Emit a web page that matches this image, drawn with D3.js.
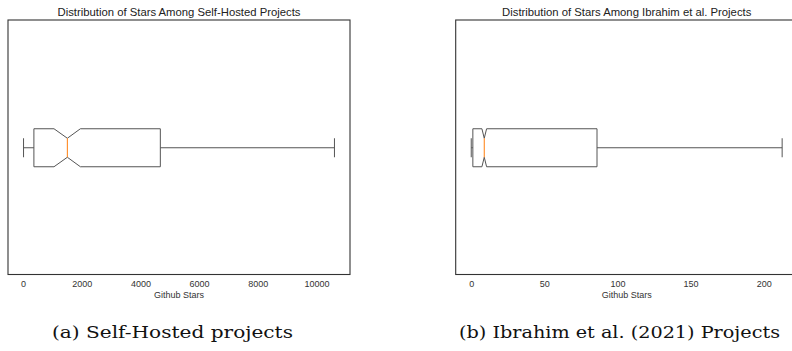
<!DOCTYPE html>
<html>
<head>
<meta charset="utf-8">
<script src="https://cdn.jsdelivr.net/npm/d3@7"></script>
<style>
  body { margin: 0; background: #fff; }
  svg { display: block; }
</style>
</head>
<body>
<svg id="drawing_region"></svg>
<script>
// one box per panel
const panelNames = ["Self-Hosted", "Ibrahim et al."];
const titles = ["Distribution of Stars Among Self-Hosted Projects", "Distribution of Stars Among Ibrahim et al. Projects"];
const captions = ["(a) Self-Hosted projects", "(b) Ibrahim et al. (2021) Projects"];
const whiskerLow = [17, 0];
const q1 = [370, 1.1];
const notchLow = [1055, 7.3];
const median = [1510, 8.9];
const notchHigh = [1955, 10.5];
const q3 = [4680, 86];
const whiskerHigh = [10615, 212.6];
const tickValues = [
    [0, 2000, 4000, 6000, 8000, 10000],
    [0, 50, 100, 150, 200]
];
const xLabel = "Github Stars";

const config = {
    width: 792,
    height: 351,
    panelLeft: [8, 455.7],
    panelWidth: 342,
    top: 20,
    bottom: 274.5,
    captionX: [172.5, 619.5],
    captionLen: [241, 321]
};

const svg = d3.select('#drawing_region')
    .attr('width', config.width)
    .attr('height', config.height);

panelNames.forEach((name, i) => {
    const x0 = config.panelLeft[i];
    const w = config.panelWidth;
    const h = config.bottom - config.top;

    const g = svg.append('g')
        .attr('transform', `translate(${x0}, ${config.top})`);

    // matplotlib-like 5% margin around data range
    const span = whiskerHigh[i] - whiskerLow[i];
    const xscale = d3.scaleLinear()
        .domain([whiskerLow[i] - span * 0.05, whiskerHigh[i] + span * 0.05])
        .range([0, w]);

    const yscale = d3.scaleBand()
        .domain([name])
        .range([0, h]);

    const cy = yscale(name) + yscale.bandwidth() / 2 + 0.5;
    const half = 19;
    const waist = half / 2;

    // frame
    g.append('rect')
        .attr('x', 0).attr('y', 0)
        .attr('width', w).attr('height', h)
        .attr('fill', 'none')
        .attr('stroke', '#333')
        .attr('stroke-width', 1.1);

    // title
    g.append('text')
        .attr('x', w / 2)
        .attr('y', -4)
        .attr('text-anchor', 'middle')
        .attr('font-family', 'Liberation Sans, Arial, sans-serif')
        .attr('font-size', '11.3px')
        .attr('fill', '#222')
        .text(titles[i]);

    // axis (no tick marks, labels only)
    const xaxis = d3.axisBottom(xscale)
        .tickValues(tickValues[i])
        .tickSize(0)
        .tickPadding(6)
        .tickFormat(d3.format('d'));

    const axisGroup = g.append('g')
        .attr('transform', `translate(0, ${h})`)
        .call(xaxis);
    axisGroup.select('.domain').remove();
    axisGroup.selectAll('text')
        .attr('font-family', 'Liberation Sans, Arial, sans-serif')
        .attr('font-size', '9px')
        .attr('fill', '#333');

    g.append('text')
        .attr('x', w / 2)
        .attr('y', h + 23)
        .attr('text-anchor', 'middle')
        .attr('font-family', 'Liberation Sans, Arial, sans-serif')
        .attr('font-size', '9px')
        .attr('fill', '#333')
        .text(xLabel);

    const stroke = '#555';

    // whiskers
    g.append('line')
        .attr('x1', xscale(whiskerLow[i])).attr('x2', xscale(q1[i]))
        .attr('y1', cy).attr('y2', cy)
        .attr('stroke', stroke).attr('stroke-width', 1);
    g.append('line')
        .attr('x1', xscale(q3[i])).attr('x2', xscale(whiskerHigh[i]))
        .attr('y1', cy).attr('y2', cy)
        .attr('stroke', stroke).attr('stroke-width', 1);

    // caps
    [whiskerLow[i], whiskerHigh[i]].forEach(v => {
        g.append('line')
            .attr('x1', xscale(v)).attr('x2', xscale(v))
            .attr('y1', cy - waist).attr('y2', cy + waist)
            .attr('stroke', stroke).attr('stroke-width', 1);
    });

    // notched box
    const pts = [
        [xscale(q1[i]), cy - half],
        [xscale(notchLow[i]), cy - half],
        [xscale(median[i]), cy - waist],
        [xscale(notchHigh[i]), cy - half],
        [xscale(q3[i]), cy - half],
        [xscale(q3[i]), cy + half],
        [xscale(notchHigh[i]), cy + half],
        [xscale(median[i]), cy + waist],
        [xscale(notchLow[i]), cy + half],
        [xscale(q1[i]), cy + half]
    ];
    g.append('path')
        .attr('d', d3.line()(pts) + 'Z')
        .attr('fill', 'none')
        .attr('stroke', stroke)
        .attr('stroke-width', 1);

    // median
    g.append('line')
        .attr('x1', xscale(median[i])).attr('x2', xscale(median[i]))
        .attr('y1', cy - waist).attr('y2', cy + waist)
        .attr('stroke', '#ff7f0e')
        .attr('stroke-width', 1);

    // subfigure caption
    svg.append('text')
        .attr('x', config.captionX[i])
        .attr('y', 338)
        .attr('text-anchor', 'middle')
        .attr('font-family', 'DejaVu Serif, Liberation Serif, serif')
        .attr('font-size', '17px')
        .attr('textLength', config.captionLen[i])
        .attr('lengthAdjust', 'spacingAndGlyphs')
        .attr('fill', '#111')
        .text(captions[i]);
});
</script>
</body>
</html>
